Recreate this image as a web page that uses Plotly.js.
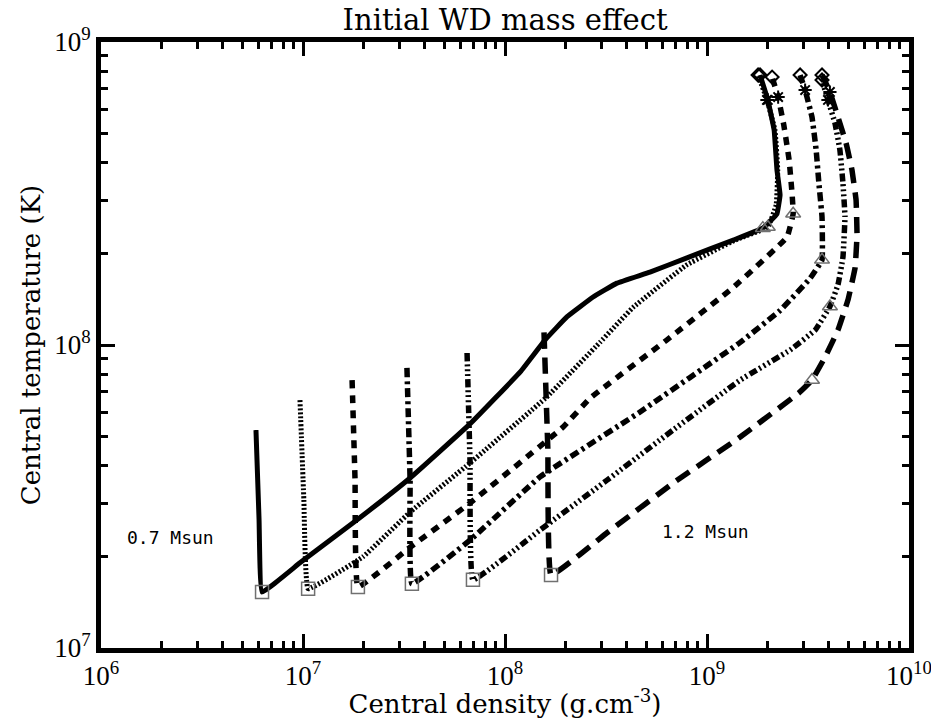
<!DOCTYPE html>
<html>
<head>
<meta charset="utf-8">
<script src="https://cdn.plot.ly/plotly-3.0.1.min.js"></script>
<style>html,body{margin:0;padding:0;background:#fff;}</style>
</head>
<body>
<div id="chart" style="width:931px;height:719px;"></div>
<script>
// Central density (g/cm^3) and central temperature (K) tracks, per initial WD mass
const rho07 = [5.85e6, 6.06e6, 6.27e6, 9.66e6, 1.91e7, 3.39e7, 6.71e7, 1.19e8, 1.58e8, 2.03e8, 2.73e8, 3.58e8, 5.22e8, 7.96e8, 1.35e9, 1.89e9, 2.22e9, 2.30e9, 2.22e9, 2.15e9, 2.00e9, 1.83e9];
const T07   = [5.24e7, 2.65e7, 1.53e7, 1.91e7, 2.69e7, 3.64e7, 5.49e7, 8.15e7, 1.04e8, 1.24e8, 1.44e8, 1.60e8, 1.74e8, 1.94e8, 2.22e8, 2.43e8, 2.71e8, 3.13e8, 3.78e8, 5.12e8, 6.44e8, 7.78e8];

const rho08 = [9.66e6, 1.01e7, 1.06e7, 1.98e7, 3.39e7, 6.71e7, 1.61e8, 2.95e8, 4.30e8, 7.96e8, 1.38e9, 2.00e9, 2.20e9, 2.24e9, 2.17e9, 1.98e9, 1.79e9];
const T08   = [6.58e7, 3.08e7, 1.57e7, 2.00e7, 2.81e7, 4.08e7, 6.74e7, 1.02e8, 1.33e8, 1.84e8, 2.22e8, 2.45e8, 2.90e8, 3.78e8, 5.12e8, 6.44e8, 7.78e8];

const rho09 = [1.75e7, 1.81e7, 1.87e7, 3.39e7, 6.71e7, 1.94e8, 2.64e8, 6.34e8, 1.35e9, 2.49e9, 2.67e9, 2.64e9, 2.55e9, 2.40e9, 2.25e9, 2.10e9];
const T09   = [7.66e7, 3.58e7, 1.59e7, 2.15e7, 3.01e7, 5.36e7, 6.68e7, 1.04e8, 1.55e8, 2.27e8, 2.71e8, 3.13e8, 4.08e8, 5.32e8, 6.58e8, 7.66e8];

const rho10 = [3.27e7, 3.39e7, 3.46e7, 6.71e7, 1.49e8, 4.66e8, 1.46e9, 2.30e9, 3.24e9, 3.71e9, 3.71e9, 3.58e9, 3.47e9, 3.31e9, 3.06e9, 2.89e9];
const T10   = [8.40e7, 3.58e7, 1.63e7, 2.27e7, 3.67e7, 6.01e7, 1.02e8, 1.30e8, 1.66e8, 1.91e8, 2.65e8, 3.42e8, 4.40e8, 5.65e8, 6.94e8, 7.78e8];

const rho11 = [6.49e7, 6.71e7, 6.94e7, 1.49e8, 3.20e8, 6.79e8, 1.46e9, 2.58e9, 3.43e9, 4.06e9, 4.45e9, 4.71e9, 4.82e9, 4.71e9, 4.55e9, 4.30e9, 3.97e9, 3.71e9];
const T11   = [9.41e7, 4.17e7, 1.68e7, 2.45e7, 3.58e7, 5.24e7, 7.66e7, 9.63e7, 1.12e8, 1.34e8, 1.58e8, 1.95e8, 2.65e8, 3.42e8, 4.40e8, 5.40e8, 6.44e8, 7.49e8];

const rho12 = [1.56e8, 1.63e8, 1.69e8, 3.20e8, 6.79e8, 1.46e9, 2.85e9, 3.31e9, 3.84e9, 4.45e9, 4.99e9, 5.41e9, 5.53e9, 5.47e9, 5.22e9, 4.88e9, 4.45e9, 4.06e9, 3.71e9];
const T12   = [1.10e8, 4.50e7, 1.74e7, 2.40e7, 3.50e7, 4.97e7, 6.95e7, 7.66e7, 9.12e7, 1.12e8, 1.41e8, 1.80e8, 2.31e8, 3.01e8, 3.78e8, 4.64e8, 5.65e8, 6.84e8, 7.78e8];

// Index of the point carrying each marker, per track
const squareIdx   = [2, 2, 2, 2, 2, 2];
const triangleIdx = [15, 11, 10, 9, 9, 7];

const xDecades = [1e6, 1e7, 1e8, 1e9, 1e10];
const yDecades = [1e7, 1e8, 1e9];
const minorMult = [2, 3, 4, 5, 6, 7, 8, 9];
const labelLow = '0.7 Msun';
const labelHigh = '1.2 Msun';

const tracks = [
  {x: rho07, y: T07, dash: 'solid', w: 5},
  {x: rho08, y: T08, dash: '2px,2px', w: 5},
  {x: rho09, y: T09, dash: '8px,7px', w: 5.5},
  {x: rho10, y: T10, dash: '9px,4px,3px,4px', w: 5.5},
  {x: rho11, y: T11, dash: '8px,3px,2px,3px,2px,3px,2px,3px', w: 5.5},
  {x: rho12, y: T12, dash: '16px,9px', w: 5.5}
];

const data = tracks.map(t => ({
  type: 'scatter', mode: 'lines', x: t.x, y: t.y,
  line: {color: 'black', width: t.w, dash: t.dash, shape: 'spline', smoothing: 0.25},
  hoverinfo: 'skip', showlegend: false
}));

data.push({
  type: 'scatter', mode: 'markers',
  x: tracks.map((t, i) => t.x[squareIdx[i]]),
  y: tracks.map((t, i) => t.y[squareIdx[i]]),
  marker: {symbol: 'square-open', size: 13, color: '#707070', line: {width: 1.5, color: '#707070'}},
  showlegend: false
});
data.push({
  type: 'scatter', mode: 'markers',
  x: tracks.map((t, i) => t.x[triangleIdx[i]]),
  y: tracks.map((t, i) => t.y[triangleIdx[i]]),
  marker: {symbol: 'triangle-up-open', size: 13, color: '#707070', line: {width: 1.5, color: '#707070'}},
  showlegend: false
});
data.push({
  type: 'scatter', mode: 'markers',
  x: tracks.map(t => t.x[t.x.length - 1]),
  y: tracks.map(t => t.y[t.y.length - 1]),
  marker: {symbol: 'diamond-open', size: 10, color: 'black', line: {width: 2, color: 'black'}},
  showlegend: false
});
data.push({
  type: 'scatter', mode: 'markers',
  x: tracks.map(t => t.x[t.x.length - 2]),
  y: tracks.map(t => t.y[t.y.length - 2]),
  marker: {symbol: 'asterisk-open', size: 11, color: 'black', line: {width: 2, color: 'black'}},
  showlegend: false
});

function minorVals(decades) {
  const out = [];
  decades.slice(0, -1).forEach(d => minorMult.forEach(m => out.push(d * m)));
  return out;
}
function powerLabels(vals) {
  return vals.map(v => '10<sup>' + Math.round(Math.log10(v)) + '</sup>');
}

const axisCommon = {
  type: 'log',
  showline: true, linecolor: 'black', linewidth: 5,
  mirror: 'allticks',
  ticks: 'inside', ticklen: 14, tickwidth: 3, tickcolor: 'black',
  showgrid: false, zeroline: false,
  ticklabeloverflow: 'allow',
  tickfont: {family: 'Liberation Serif, serif', size: 27, color: 'black'}
};

const layout = {
  width: 931, height: 719,
  margin: {l: 101, r: 22, t: 42, b: 71},
  paper_bgcolor: 'white', plot_bgcolor: 'white',
  title: {text: 'Initial WD mass effect', x: 0.5425, xanchor: 'center', y: 0.972, yanchor: 'middle',
          font: {family: 'DejaVu Serif, serif', size: 29, color: 'black'}},
  xaxis: Object.assign({}, axisCommon, {
    range: [6, 10], tickvals: xDecades, ticktext: powerLabels(xDecades),
    minor: {tickvals: minorVals(xDecades), ticks: 'inside', ticklen: 7, tickwidth: 3, tickcolor: 'black', showgrid: false},
    title: {text: 'Central density (g.cm<sup>-3</sup>)', standoff: 4,
            font: {family: 'DejaVu Serif, serif', size: 26, color: 'black'}}
  }),
  yaxis: Object.assign({}, axisCommon, {
    range: [7, 9], tickvals: yDecades, ticktext: powerLabels(yDecades),
    minor: {tickvals: minorVals(yDecades), ticks: 'inside', ticklen: 7, tickwidth: 3, tickcolor: 'black', showgrid: false},
    title: {text: 'Central temperature (K)', standoff: 8,
            font: {family: 'DejaVu Serif, serif', size: 26, color: 'black'}}
  }),
  annotations: [
    {text: labelLow, xref: 'x', yref: 'y', x: Math.log10(2.2e6), y: Math.log10(2.32e7), showarrow: false,
     font: {family: 'DejaVu Sans Mono, monospace', size: 18, color: 'black'}},
    {text: labelHigh, xref: 'x', yref: 'y', x: Math.log10(9.8e8), y: Math.log10(2.43e7), showarrow: false,
     font: {family: 'DejaVu Sans Mono, monospace', size: 18, color: 'black'}}
  ]
};

Plotly.newPlot('chart', data, layout, {displayModeBar: false, staticPlot: true});
</script>
</body>
</html>
